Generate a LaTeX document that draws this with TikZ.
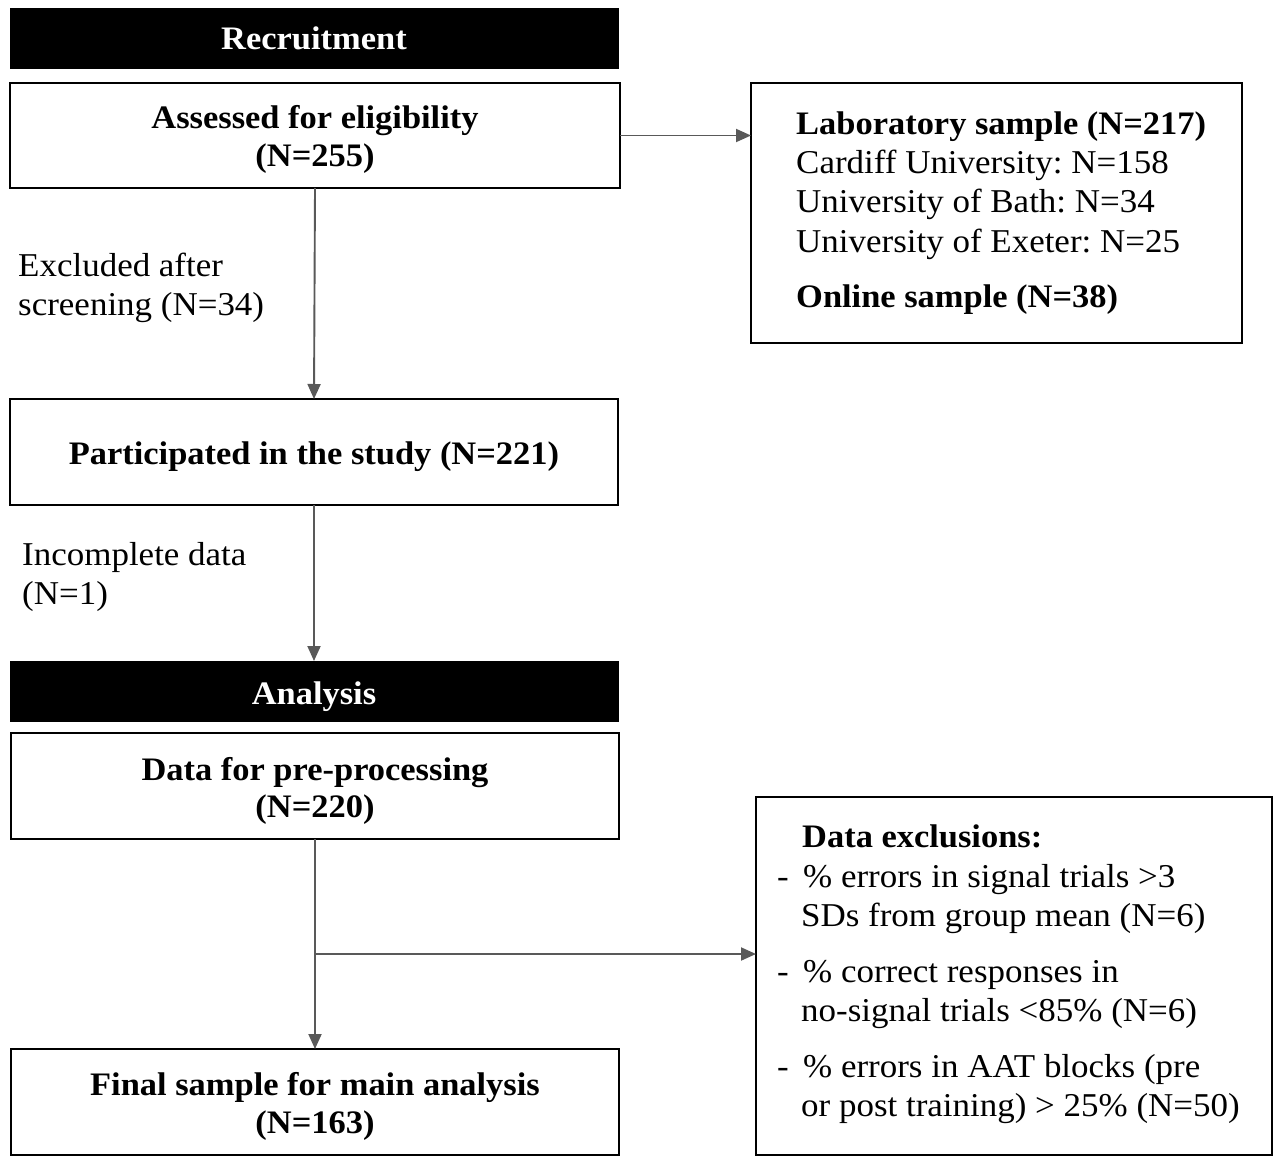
\documentclass[tikz,border=0pt]{standalone}
\usepackage{fontspec}
\setmainfont[FakeStretch=1.05]{Liberation Serif}
\usetikzlibrary{arrows.meta}
\frenchspacing
\begin{document}
\begin{tikzpicture}[x=1pt,y=-1pt,
  box/.style={draw=black,line width=1.8pt,inner sep=0pt,outer sep=0pt,rectangle},
  bar/.style={fill=black,draw=black,line width=1pt,inner sep=0pt,outer sep=0pt,rectangle,minimum width=608pt,minimum height=60pt},
  txt/.style={inner sep=0pt,anchor=base,font=\fontsize{33.3}{39}\selectfont},
  ltxt/.style={txt,anchor=base west},
  btxt/.style={txt,font=\fontsize{32.8}{39}\selectfont\bfseries},
  lbtxt/.style={btxt,anchor=base west},
  wtxt/.style={btxt,text=white},
  conn/.style={draw=black!65,line width=1.9pt,-{Triangle[length=15pt,width=13pt]}}
]
\useasboundingbox (0,0) rectangle (1285,1167);
\fill[white] (0,0) rectangle (1285,1167);

% boxes
\node[bar] (rec) at (314,38) {};
\node[box,minimum width=610pt,minimum height=105pt] (assess) at (315,135.5) {};
\node[box,minimum width=491pt,minimum height=260pt] (lab) at (996.5,213) {};
\node[box,minimum width=608pt,minimum height=106pt] (part) at (314,452) {};
\node[bar] (ana) at (314,691) {};
\node[box,minimum width=608pt,minimum height=106pt] (data) at (315,786) {};
\node[box,minimum width=608pt,minimum height=106pt] (final) at (315,1102) {};
\node[box,minimum width=516pt,minimum height=358pt] (excl) at (1014,976) {};

% texts
\node[wtxt] (trec) at (314,49) {Recruitment};
\node[btxt] (ta1) at (315,128) {Assessed for eligibility};
\node[btxt] (ta2) at (315,166) {(N=255)};

\node[lbtxt] (tl1) at (796,134) {Laboratory sample (N=217)};
\node[ltxt] (tl2) at (796,173) {Cardiff University: N=158};
\node[ltxt] (tl3) at (796,212) {University of Bath: N=34};
\node[ltxt] (tl4) at (796,252) {University of Exeter: N=25};
\node[lbtxt] (tl5) at (796,307) {Online sample (N=38)};

\node[ltxt] (te1) at (18,276) {Excluded after};
\node[ltxt] (te2) at (18,315) {screening (N=34)};

\node[btxt] (tp) at (314,464) {Participated in the study (N=221)};

\node[ltxt] (ti1) at (22,565) {Incomplete data};
\node[ltxt] (ti2) at (22,604) {(N=1)};

\node[wtxt] (tana) at (314,704) {Analysis};
\node[btxt] (td1) at (315,780) {Data for pre-processing};
\node[btxt] (td2) at (315,817) {(N=220)};

\node[btxt] (tf1) at (315,1095) {Final sample for main analysis};
\node[btxt] (tf2) at (315,1133) {(N=163)};

\node[lbtxt] (tx0) at (802,847) {Data exclusions:};
\node[ltxt] (tx1d) at (777,887) {-};
\node[ltxt] (tx1) at (803,887) {\% errors in signal trials >3};
\node[ltxt] (tx1b) at (801,926) {SDs from group mean (N=6)};
\node[ltxt] (tx2d) at (777,982) {-};
\node[ltxt] (tx2) at (803,982) {\% correct responses in};
\node[ltxt] (tx2b) at (801,1021) {no-signal trials <85\% (N=6)};
\node[ltxt] (tx3d) at (777,1077) {-};
\node[ltxt] (tx3) at (803,1077) {\% errors in AAT blocks (pre};
\node[ltxt] (tx3b) at (801,1116) {or post training) > 25\% (N=50)};

% connectors
\draw[conn] (assess.east) -- (assess.east -| lab.west);
\draw[conn] (assess.south) -- (part.north);
\draw[conn] (part.south) -- (ana.north);
\draw[conn] (data.south) -- (final.north);
\coordinate (br) at (315,954);
\draw[conn] (br) -- (br -| excl.west);
\end{tikzpicture}
\end{document}
